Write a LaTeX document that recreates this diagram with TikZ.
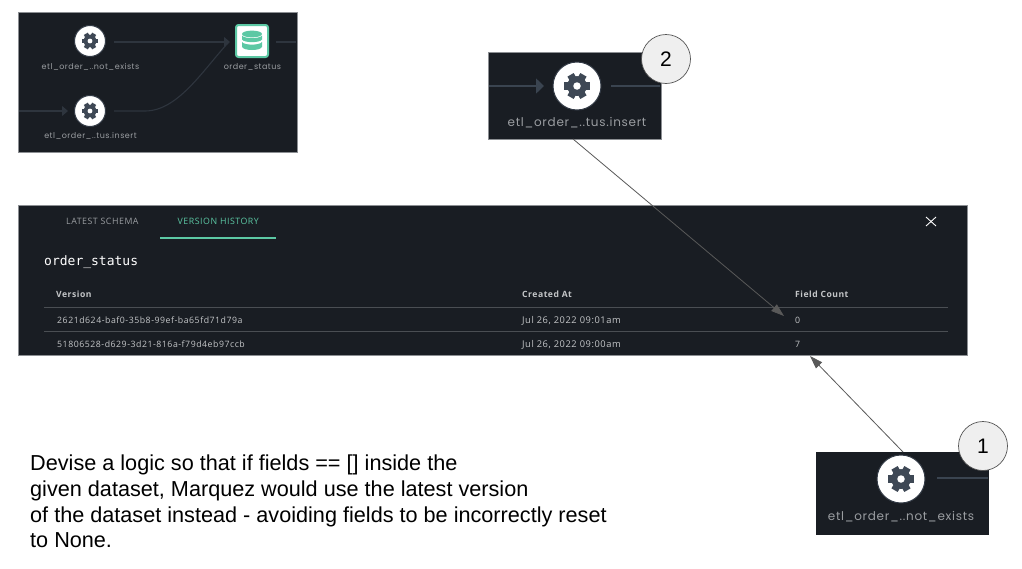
\documentclass[tikz,border=0pt]{standalone}
\usepackage{fontspec}
\setmainfont{Liberation Sans}
\newfontfamily\uifont[LetterSpace=6]{Open Sans}
\newfontfamily\lblfont[LetterSpace=6]{Poppins}
\newfontfamily\monofont{DejaVu Sans Mono}
\usetikzlibrary{arrows.meta}
\definecolor{panelbg}{HTML}{191D23}
\definecolor{panelrim}{HTML}{8C8F93}
\definecolor{edgecol}{HTML}{2E353E}
\definecolor{bigedge}{HTML}{3A4450}
\definecolor{gearcol}{HTML}{3E4855}
\definecolor{mint}{HTML}{5CC8A4}
\definecolor{uitext}{HTML}{C4C6C8}
\definecolor{dimtext}{HTML}{9A9DA1}
\definecolor{rulecol}{HTML}{4A4E53}
\definecolor{badgefill}{HTML}{EFEFEF}
\definecolor{badgerim}{HTML}{555555}
\definecolor{pointer}{HTML}{595959}
\tikzset{
  x=1pt,y=-1pt,
  panel/.style={fill=panelbg,draw=panelrim,line width=.5pt,inner sep=0pt,anchor=north west},
  badge/.style={circle,fill=badgefill,draw=badgerim,line width=.7pt,inner sep=0pt,font=\fontsize{21}{21}\selectfont},
  callout/.style={pointer,line width=.8pt,-{Triangle[length=13pt,width=8.5pt]}},
  flow/.style={edgecol,line width=1.1pt},
  flowtip/.style={flow,-{Triangle[length=6pt,width=10pt]}},
  bigflow/.style={bigedge,line width=1.5pt},
  bigtip/.style={bigflow,-{Triangle[length=8pt,width=15pt]}},
  flowlabel/.style={text=dimtext,inner sep=0pt,font=\lblfont\fontsize{8}{9}\selectfont},
  biglabel/.style={text=dimtext,inner sep=0pt,font=\lblfont\fontsize{12}{14}\selectfont},
  tabtext/.style={inner sep=0pt,anchor=base west,text=uitext,font=\uifont\fontsize{8.800}{10}\selectfont},
  tabhead/.style={tabtext,font=\uifont\bfseries\fontsize{8.600}{10}\selectfont},
  tabname/.style={tabtext,font=\uifont\fontsize{8.750}{10}\selectfont},
  tabdate/.style={tabtext,font=\uifont\fontsize{9.300}{10}\selectfont},
  para/.style={inner sep=0pt,anchor=base west,text=black,font=\fontsize{21.65}{22}\selectfont},
}
% gear icon: #1 name, #2 centre, #3 white disc radius
\newcommand{\geardisc}[3]{%
  \node[circle,fill=white,draw=gearcol!70!panelbg,line width=1pt,minimum size=#3*2pt,inner sep=0pt] (#1) at (#2) {};
  \begin{scope}[shift={(#2)},scale=#3/16]
    \foreach \a in {30,90,...,330}{\fill[gearcol,rotate=\a] (-2.4,-8.6) rectangle (2.4,-4);}
    \fill[gearcol] (0,0) circle (6.6);
    \fill[white] (0,0) circle (2.5);
  \end{scope}}
\begin{document}
\begin{tikzpicture}
\useasboundingbox (0,0) rectangle (1022,568);
\fill[white] (0,0) rectangle (1022,568);

% top-left panel
\node[panel,minimum width=279pt,minimum height=140pt] (lineage) at (18,12) {};
\coordinate (e1a) at (114,42);
\coordinate (e1b) at (230,42);
\coordinate (e2a) at (114,111);
\coordinate (e2b) at (228,43);
\coordinate (e3a) at (19,111);
\coordinate (e3b) at (68,111);
\coordinate (e4a) at (276,42);
\coordinate (e4b) at (296,42);
\draw[flowtip] (e1a) -- (e1b);
\draw[flow] (e2a) -- (145,111) .. controls (178,111) and (203,70) .. (e2b);
\draw[flowtip] (e3a) -- (e3b);
\draw[flow] (e4a) -- (e4b);
\geardisc{nexists}{90,41}{15.5}
\geardisc{ninsert}{90,111}{15.5}
\node[flowlabel] (lexists) at (90.500,67) {etl\_order\_..not\_exists};
\node[flowlabel] (linsert) at (90.500,136) {etl\_order\_..tus.insert};
\node[fill=white,draw=mint,line width=2pt,rounded corners=2.5pt,minimum size=32pt,inner sep=0pt] (status) at (252,41) {};
\begin{scope}[shift={(252,41)}]
  \fill[mint] (-10,-7) arc[start angle=180,end angle=360,x radius=10,y radius=3.4] -- (10,-7) arc[start angle=0,end angle=180,x radius=10,y radius=3.4] -- cycle;
  \fill[mint] (-10,-5.5) .. controls (-8,-2) and (8,-2) .. (10,-5.5) -- (10,-1.5) .. controls (8,2) and (-8,2) .. (-10,-1.5) -- cycle;
  \fill[mint] (-10,1) .. controls (-8,4.5) and (8,4.5) .. (10,1) -- (10,6) .. controls (8,10) and (-8,10) .. (-10,6) -- cycle;
\end{scope}
\node[flowlabel] (lstatus) at (252.500,67) {order\_status};

% crop: insert
\node[panel,minimum width=173pt,minimum height=87pt] (cropinsert) at (488,52) {};
\coordinate (c1a) at (489,86);
\coordinate (c1b) at (544,86);
\coordinate (c1c) at (611,86);
\coordinate (c1d) at (660,86);
\draw[bigtip] (c1a) -- (c1b);
\draw[bigflow] (c1c) -- (c1d);
\geardisc{binsert}{577,86}{24}
\node[biglabel] (tinsert) at (577,123) {etl\_order\_..tus.insert};
\node[badge,minimum size=49pt] (two) at (666,59) {2};

% main table panel
\node[panel,minimum width=949pt,minimum height=150pt] (tablepanel) at (18,205) {};
\node[tabtext,text=dimtext] (tab1) at (66,224) {LATEST SCHEMA};
\node[tabtext,text=mint] (tab2) at (177.500,224) {VERSION HISTORY};
\coordinate (u1) at (160,238);
\coordinate (u2) at (276,238);
\draw[mint,line width=1.3pt] (u1) -- (u2);
\node[inner sep=0pt,anchor=base west,text=white,font=\monofont\fontsize{13}{15}\selectfont] (dsname) at (44,265) {order\_status};
\node[tabhead] (hv) at (56,297) {Version};
\node[tabhead] (hc) at (522,297) {Created At};
\node[tabhead] (hf) at (795,297) {Field Count};
\coordinate (r1a) at (44,307.500);
\coordinate (r1b) at (948,307.500);
\coordinate (r2a) at (44,331.500);
\coordinate (r2b) at (948,331.500);
\draw[rulecol,line width=.6pt] (r1a) -- (r1b);
\draw[rulecol,line width=.6pt] (r2a) -- (r2b);
\node[tabname] (v1) at (57,323) {2621d624-baf0-35b8-99ef-ba65fd71d79a};
\node[tabdate] (d1) at (522,323) {Jul 26, 2022 09:01am};
\node[tabname] (f1) at (795,323) {0};
\node[tabname] (v2) at (57,347) {51806528-d629-3d21-816a-f79d4eb97ccb};
\node[tabdate] (d2) at (522,347) {Jul 26, 2022 09:00am};
\node[tabname] (f2) at (795,347) {7};
\coordinate (x1) at (926,217);
\coordinate (x2) at (936,226);
\coordinate (x3) at (926,226);
\coordinate (x4) at (936,217);
\draw[white,line width=.9pt] (x1) -- (x2);
\draw[white,line width=.9pt] (x3) -- (x4);

% crop: not exists
\node[panel,draw=none,minimum width=173pt,minimum height=83pt] (cropexists) at (816,452) {};
\coordinate (c2a) at (937,478);
\coordinate (c2b) at (988,478);
\draw[bigflow] (c2a) -- (c2b);
\geardisc{bexists}{901,479}{24}
\node[biglabel] (texists) at (901,517) {etl\_order\_..not\_exists};
\node[badge,minimum size=49pt] (one) at (983,446) {1};

% callouts
\coordinate (tip2) at (784,316);
\coordinate (tip1) at (810,356);
\coordinate (from2) at (573,139);
\coordinate (from1) at (903,452);
\draw[callout] (from2) -- (tip2);
\draw[callout] (from1) -- (tip1);

% note
\node[para] (n1) at (30,470.500) {Devise a logic so that if fields == [] inside the};
\node[para] (n2) at (30,496.500) {given dataset, Marquez would use the latest version};
\node[para] (n3) at (30,522) {of the dataset instead - avoiding fields to be incorrectly reset};
\node[para] (n4) at (30,547.500) {to None.};
\end{tikzpicture}
\end{document}
